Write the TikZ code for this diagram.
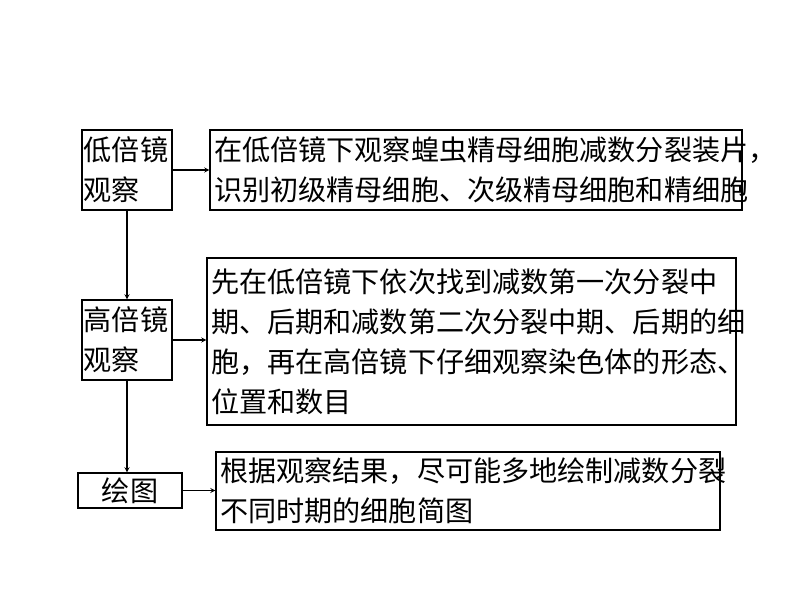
\documentclass[tikz,border=0pt]{standalone}
\usepackage{fontspec}
\newfontfamily\cjk{Noto Sans CJK SC}
\begin{document}
\begin{tikzpicture}[x=0.03cm,y=-0.03cm,
  box/.style={draw,line width=1.2pt,inner sep=0pt},
  txt/.style={anchor=west,inner sep=0pt,align=left,font=\cjk\fontsize{24}{34}\selectfont},
  arr/.style={-stealth,line width=0.9pt}]
\useasboundingbox (0,0) rectangle (800,600);
\node[box,minimum width=2.7cm,minimum height=2.4cm] (A) at (127,170) {};
\node[txt] (At) at ([xshift=2pt]A.west) {低倍镜\\观察};
\node[box,minimum width=15.96cm,minimum height=2.4cm] (B) at (476,170) {};
\node[txt] (Bt) at ([xshift=4pt]B.west) {在低倍镜下观察蝗虫精母细胞减数分裂装片，\\识别初级精母细胞、次级精母细胞和精细胞};
\node[box,minimum width=2.7cm,minimum height=2.4cm] (C) at (127,340) {};
\node[txt] (Ct) at ([xshift=2pt]C.west) {高倍镜\\观察};
\node[box,minimum width=15.87cm,minimum height=5.01cm] (D) at (471.5,341.5) {};
\node[txt] (Dt) at ([xshift=4pt]D.west) {先在低倍镜下依次找到减数第一次分裂中\\期、后期和减数第二次分裂中期、后期的细\\胞，再在高倍镜下仔细观察染色体的形态、\\位置和数目};
\node[box,minimum width=3.12cm,minimum height=1.05cm] (E) at (130,490.5) {};
\node[txt,anchor=center] (Et) at (E.center) {绘图};
\node[box,minimum width=15.12cm,minimum height=2.34cm] (F) at (468,491) {};
\node[txt] (Ft) at ([xshift=4pt]F.west) {根据观察结果，尽可能多地绘制减数分裂\\不同时期的细胞简图};
\draw[arr] (A) -- (B);
\draw[arr] (C) -- (C -| D.west);
\draw[arr] (E) -- (E -| F.west);
\draw[arr] (A) -- (C);
\draw[arr] (C.south) -- (C.south |- E.north);
\end{tikzpicture}
\end{document}
